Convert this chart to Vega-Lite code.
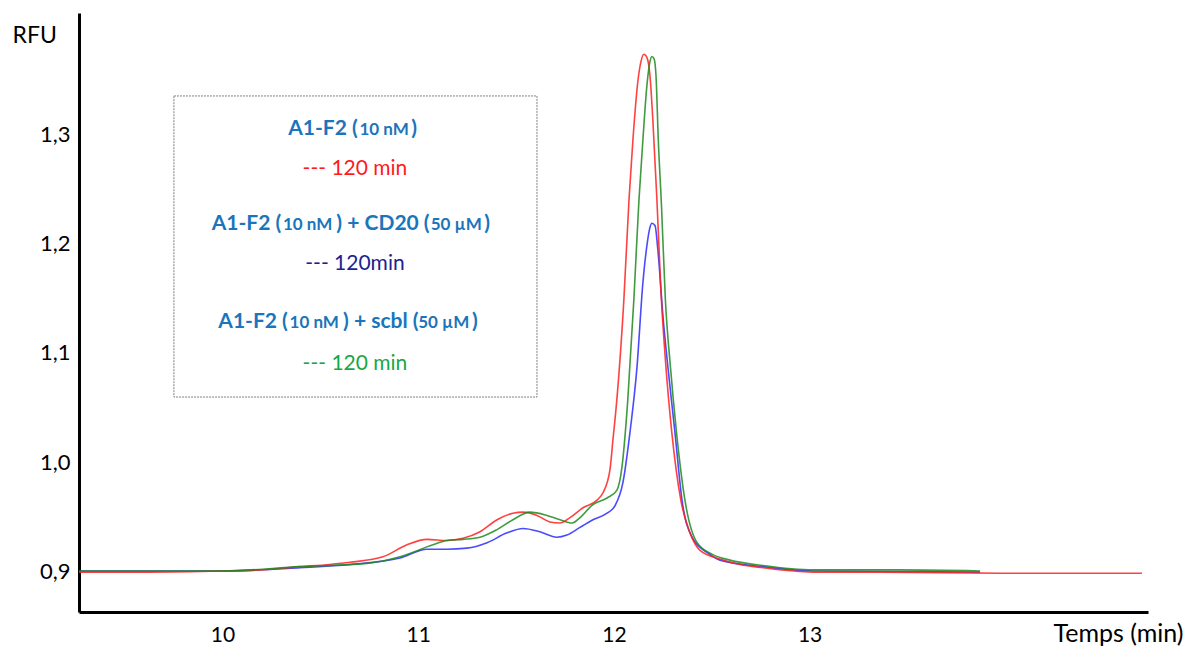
{
  "$schema": "https://vega.github.io/schema/vega-lite/v6.json",
  "width": 1069,
  "height": 599,
  "autosize": "none",
  "padding": {"left": 79, "top": 13, "right": 41, "bottom": 43},
  "background": "white",
  "config": {"view": {"stroke": null}},
  "datasets": {
    "curves": [
      {"s": "blue", "t": 9.267, "rfu": 0.900},
      {"s": "blue", "t": 9.997, "rfu": 0.900},
      {"s": "blue", "t": 10.396, "rfu": 0.903},
      {"s": "blue", "t": 10.652, "rfu": 0.906},
      {"s": "blue", "t": 10.907, "rfu": 0.912},
      {"s": "blue", "t": 11.045, "rfu": 0.920},
      {"s": "blue", "t": 11.147, "rfu": 0.920},
      {"s": "blue", "t": 11.250, "rfu": 0.921},
      {"s": "blue", "t": 11.352, "rfu": 0.926},
      {"s": "blue", "t": 11.454, "rfu": 0.935},
      {"s": "blue", "t": 11.536, "rfu": 0.939},
      {"s": "blue", "t": 11.622, "rfu": 0.936},
      {"s": "blue", "t": 11.709, "rfu": 0.931},
      {"s": "blue", "t": 11.760, "rfu": 0.933},
      {"s": "blue", "t": 11.827, "rfu": 0.940},
      {"s": "blue", "t": 11.893, "rfu": 0.947},
      {"s": "blue", "t": 11.965, "rfu": 0.953},
      {"s": "blue", "t": 12.006, "rfu": 0.960},
      {"s": "blue", "t": 12.046, "rfu": 0.981},
      {"s": "blue", "t": 12.082, "rfu": 1.027},
      {"s": "blue", "t": 12.118, "rfu": 1.087},
      {"s": "blue", "t": 12.148, "rfu": 1.164},
      {"s": "blue", "t": 12.169, "rfu": 1.199},
      {"s": "blue", "t": 12.184, "rfu": 1.215},
      {"s": "blue", "t": 12.194, "rfu": 1.219},
      {"s": "blue", "t": 12.210, "rfu": 1.217},
      {"s": "blue", "t": 12.225, "rfu": 1.194},
      {"s": "blue", "t": 12.251, "rfu": 1.133},
      {"s": "blue", "t": 12.276, "rfu": 1.087},
      {"s": "blue", "t": 12.312, "rfu": 1.027},
      {"s": "blue", "t": 12.348, "rfu": 0.965},
      {"s": "blue", "t": 12.399, "rfu": 0.931},
      {"s": "blue", "t": 12.476, "rfu": 0.917},
      {"s": "blue", "t": 12.542, "rfu": 0.910},
      {"s": "blue", "t": 12.762, "rfu": 0.904},
      {"s": "blue", "t": 13.017, "rfu": 0.900},
      {"s": "blue", "t": 13.871, "rfu": 0.899},

      {"s": "red", "t": 9.267, "rfu": 0.899},
      {"s": "red", "t": 9.630, "rfu": 0.899},
      {"s": "red", "t": 9.997, "rfu": 0.900},
      {"s": "red", "t": 10.192, "rfu": 0.901},
      {"s": "red", "t": 10.396, "rfu": 0.904},
      {"s": "red", "t": 10.549, "rfu": 0.906},
      {"s": "red", "t": 10.652, "rfu": 0.908},
      {"s": "red", "t": 10.820, "rfu": 0.913},
      {"s": "red", "t": 10.943, "rfu": 0.924},
      {"s": "red", "t": 11.045, "rfu": 0.929},
      {"s": "red", "t": 11.147, "rfu": 0.928},
      {"s": "red", "t": 11.229, "rfu": 0.930},
      {"s": "red", "t": 11.316, "rfu": 0.936},
      {"s": "red", "t": 11.403, "rfu": 0.947},
      {"s": "red", "t": 11.484, "rfu": 0.953},
      {"s": "red", "t": 11.536, "rfu": 0.954},
      {"s": "red", "t": 11.607, "rfu": 0.951},
      {"s": "red", "t": 11.673, "rfu": 0.945},
      {"s": "red", "t": 11.725, "rfu": 0.944},
      {"s": "red", "t": 11.776, "rfu": 0.949},
      {"s": "red", "t": 11.842, "rfu": 0.958},
      {"s": "red", "t": 11.914, "rfu": 0.965},
      {"s": "red", "t": 11.945, "rfu": 0.972},
      {"s": "red", "t": 11.980, "rfu": 0.993},
      {"s": "red", "t": 11.995, "rfu": 1.020},
      {"s": "red", "t": 12.015, "rfu": 1.057},
      {"s": "red", "t": 12.051, "rfu": 1.149},
      {"s": "red", "t": 12.077, "rfu": 1.240},
      {"s": "red", "t": 12.097, "rfu": 1.295},
      {"s": "red", "t": 12.123, "rfu": 1.350},
      {"s": "red", "t": 12.138, "rfu": 1.367},
      {"s": "red", "t": 12.153, "rfu": 1.374},
      {"s": "red", "t": 12.169, "rfu": 1.371},
      {"s": "red", "t": 12.184, "rfu": 1.355},
      {"s": "red", "t": 12.199, "rfu": 1.314},
      {"s": "red", "t": 12.220, "rfu": 1.240},
      {"s": "red", "t": 12.240, "rfu": 1.158},
      {"s": "red", "t": 12.266, "rfu": 1.087},
      {"s": "red", "t": 12.296, "rfu": 1.027},
      {"s": "red", "t": 12.342, "rfu": 0.965},
      {"s": "red", "t": 12.389, "rfu": 0.935},
      {"s": "red", "t": 12.440, "rfu": 0.919},
      {"s": "red", "t": 12.542, "rfu": 0.911},
      {"s": "red", "t": 12.644, "rfu": 0.906},
      {"s": "red", "t": 12.762, "rfu": 0.903},
      {"s": "red", "t": 13.017, "rfu": 0.899},
      {"s": "red", "t": 13.360, "rfu": 0.899},
      {"s": "red", "t": 13.973, "rfu": 0.898},
      {"s": "red", "t": 14.698, "rfu": 0.898},

      {"s": "green", "t": 9.267, "rfu": 0.900},
      {"s": "green", "t": 9.997, "rfu": 0.900},
      {"s": "green", "t": 10.396, "rfu": 0.904},
      {"s": "green", "t": 10.738, "rfu": 0.907},
      {"s": "green", "t": 10.907, "rfu": 0.913},
      {"s": "green", "t": 11.075, "rfu": 0.924},
      {"s": "green", "t": 11.147, "rfu": 0.928},
      {"s": "green", "t": 11.229, "rfu": 0.929},
      {"s": "green", "t": 11.316, "rfu": 0.931},
      {"s": "green", "t": 11.403, "rfu": 0.938},
      {"s": "green", "t": 11.484, "rfu": 0.947},
      {"s": "green", "t": 11.571, "rfu": 0.954},
      {"s": "green", "t": 11.658, "rfu": 0.951},
      {"s": "green", "t": 11.725, "rfu": 0.947},
      {"s": "green", "t": 11.786, "rfu": 0.944},
      {"s": "green", "t": 11.827, "rfu": 0.949},
      {"s": "green", "t": 11.893, "rfu": 0.961},
      {"s": "green", "t": 11.965, "rfu": 0.967},
      {"s": "green", "t": 12.015, "rfu": 0.974},
      {"s": "green", "t": 12.041, "rfu": 0.995},
      {"s": "green", "t": 12.071, "rfu": 1.057},
      {"s": "green", "t": 12.102, "rfu": 1.149},
      {"s": "green", "t": 12.128, "rfu": 1.240},
      {"s": "green", "t": 12.148, "rfu": 1.295},
      {"s": "green", "t": 12.169, "rfu": 1.346},
      {"s": "green", "t": 12.184, "rfu": 1.367},
      {"s": "green", "t": 12.194, "rfu": 1.372},
      {"s": "green", "t": 12.205, "rfu": 1.370},
      {"s": "green", "t": 12.215, "rfu": 1.355},
      {"s": "green", "t": 12.227, "rfu": 1.295},
      {"s": "green", "t": 12.243, "rfu": 1.236},
      {"s": "green", "t": 12.263, "rfu": 1.149},
      {"s": "green", "t": 12.289, "rfu": 1.087},
      {"s": "green", "t": 12.320, "rfu": 1.027},
      {"s": "green", "t": 12.363, "rfu": 0.965},
      {"s": "green", "t": 12.425, "rfu": 0.926},
      {"s": "green", "t": 12.506, "rfu": 0.915},
      {"s": "green", "t": 12.593, "rfu": 0.910},
      {"s": "green", "t": 12.762, "rfu": 0.905},
      {"s": "green", "t": 13.017, "rfu": 0.901},
      {"s": "green", "t": 13.462, "rfu": 0.901},
      {"s": "green", "t": 13.871, "rfu": 0.900}
    ]
  },
  "layer": [
    {
      "data": {"name": "curves"},
      "transform": [{"filter": "datum.s === 'blue'"}],
      "mark": {"type": "line", "color": "#2a2aff", "strokeWidth": 1.6, "opacity": 0.85, "interpolate": "monotone"},
      "encoding": {
        "x": {"field": "t", "type": "quantitative", "scale": {"domain": [9.267, 14.729], "nice": false, "zero": false},
          "axis": {"values": [10, 11, 12, 13], "format": "d", "ticks": false, "tickSize": 0, "grid": false, "domainColor": "black", "domainWidth": 3,
            "labelFont": "Lato", "labelFontSize": 21, "labelColor": "black", "labelPadding": 12,
            "title": "Temps (min)", "titleFont": "Lato", "titleFontSize": 25, "titleFontWeight": "normal", "titleColor": "black",
            "titleAlign": "right", "titleBaseline": "alphabetic", "titleX": 1104, "titleY": 29}},
        "y": {"field": "rfu", "type": "quantitative", "scale": {"domain": [0.8624, 1.4119], "nice": false, "zero": false},
          "axis": {"values": [0.9, 1.0, 1.1, 1.2, 1.3], "ticks": false, "tickSize": 0, "grid": false, "domainColor": "black", "domainWidth": 3,
            "labelExpr": "replace(format(datum.value, '.1f'), '.', ',')",
            "labelFont": "Lato", "labelFontSize": 22, "labelColor": "black", "labelPadding": 9,
            "title": "RFU", "titleFont": "Lato", "titleFontSize": 23, "titleFontWeight": "normal", "titleColor": "black",
            "titleAngle": 0, "titleAlign": "left", "titleBaseline": "alphabetic", "titleX": -67, "titleY": 29}}
      }
    },
    {
      "data": {"name": "curves"},
      "transform": [{"filter": "datum.s === 'red'"}],
      "mark": {"type": "line", "color": "#ff2020", "strokeWidth": 1.6, "opacity": 0.85, "interpolate": "monotone"},
      "encoding": {
        "x": {"field": "t", "type": "quantitative"},
        "y": {"field": "rfu", "type": "quantitative"}
      }
    },
    {
      "data": {"name": "curves"},
      "transform": [{"filter": "datum.s === 'green'"}],
      "mark": {"type": "line", "color": "#1f8a1f", "strokeWidth": 1.6, "opacity": 0.85, "interpolate": "monotone"},
      "encoding": {
        "x": {"field": "t", "type": "quantitative"},
        "y": {"field": "rfu", "type": "quantitative"}
      }
    },
    {
      "data": {"values": [{}]},
      "mark": {"type": "rect", "fill": null, "fillOpacity": 0, "stroke": "#7f7f7f", "strokeWidth": 1, "strokeDash": [2, 1]},
      "encoding": {
        "x": {"datum": 9.752, "type": "quantitative"}, "x2": {"datum": 11.607},
        "y": {"datum": 1.3358, "type": "quantitative"}, "y2": {"datum": 1.0596}
      }
    },
    {"data": {"values": [{}]}, "mark": {"type": "text", "text": "A1-F2 (", "font": "Lato", "fontSize": 21, "fontWeight": "bold", "color": "#1b75bc", "align": "left", "baseline": "alphabetic"},
      "encoding": {"x": {"datum": 10.336, "type": "quantitative"}, "y": {"datum": 1.300, "type": "quantitative"}}},
    {"data": {"values": [{}]}, "mark": {"type": "text", "text": "10 nM", "font": "Lato", "fontSize": 17, "fontWeight": "bold", "color": "#1b75bc", "align": "left", "baseline": "alphabetic"},
      "encoding": {"x": {"datum": 10.700, "type": "quantitative"}, "y": {"datum": 1.300, "type": "quantitative"}}},
    {"data": {"values": [{}]}, "mark": {"type": "text", "text": ")", "font": "Lato", "fontSize": 21, "fontWeight": "bold", "color": "#1b75bc", "align": "left", "baseline": "alphabetic"},
      "encoding": {"x": {"datum": 10.965, "type": "quantitative"}, "y": {"datum": 1.300, "type": "quantitative"}}},
    {"data": {"values": [{}]}, "mark": {"type": "text", "text": "--- 120 min", "font": "Lato", "fontSize": 21, "color": "#ff1a1a", "align": "center", "baseline": "alphabetic"},
      "encoding": {"x": {"datum": 10.677, "type": "quantitative"}, "y": {"datum": 1.2633, "type": "quantitative"}}},

    {"data": {"values": [{}]}, "mark": {"type": "text", "text": "A1-F2 (", "font": "Lato", "fontSize": 21, "fontWeight": "bold", "color": "#1b75bc", "align": "left", "baseline": "alphabetic"},
      "encoding": {"x": {"datum": 9.945, "type": "quantitative"}, "y": {"datum": 1.2128, "type": "quantitative"}}},
    {"data": {"values": [{}]}, "mark": {"type": "text", "text": "10 nM", "font": "Lato", "fontSize": 17, "fontWeight": "bold", "color": "#1b75bc", "align": "left", "baseline": "alphabetic"},
      "encoding": {"x": {"datum": 10.309, "type": "quantitative"}, "y": {"datum": 1.2128, "type": "quantitative"}}},
    {"data": {"values": [{}]}, "mark": {"type": "text", "text": ") + CD20 (", "font": "Lato", "fontSize": 21, "fontWeight": "bold", "color": "#1b75bc", "align": "left", "baseline": "alphabetic"},
      "encoding": {"x": {"datum": 10.582, "type": "quantitative"}, "y": {"datum": 1.2128, "type": "quantitative"}}},
    {"data": {"values": [{}]}, "mark": {"type": "text", "text": "50 µM", "font": "Lato", "fontSize": 17, "fontWeight": "bold", "color": "#1b75bc", "align": "left", "baseline": "alphabetic"},
      "encoding": {"x": {"datum": 11.064, "type": "quantitative"}, "y": {"datum": 1.2128, "type": "quantitative"}}},
    {"data": {"values": [{}]}, "mark": {"type": "text", "text": ")", "font": "Lato", "fontSize": 21, "fontWeight": "bold", "color": "#1b75bc", "align": "left", "baseline": "alphabetic"},
      "encoding": {"x": {"datum": 11.338, "type": "quantitative"}, "y": {"datum": 1.2128, "type": "quantitative"}}},
    {"data": {"values": [{}]}, "mark": {"type": "text", "text": "--- 120min", "font": "Lato", "fontSize": 21, "color": "#1e2290", "align": "center", "baseline": "alphabetic"},
      "encoding": {"x": {"datum": 10.677, "type": "quantitative"}, "y": {"datum": 1.1761, "type": "quantitative"}}},

    {"data": {"values": [{}]}, "mark": {"type": "text", "text": "A1-F2 (", "font": "Lato", "fontSize": 21, "fontWeight": "bold", "color": "#1b75bc", "align": "left", "baseline": "alphabetic"},
      "encoding": {"x": {"datum": 9.979, "type": "quantitative"}, "y": {"datum": 1.1229, "type": "quantitative"}}},
    {"data": {"values": [{}]}, "mark": {"type": "text", "text": "10 nM", "font": "Lato", "fontSize": 17, "fontWeight": "bold", "color": "#1b75bc", "align": "left", "baseline": "alphabetic"},
      "encoding": {"x": {"datum": 10.343, "type": "quantitative"}, "y": {"datum": 1.1229, "type": "quantitative"}}},
    {"data": {"values": [{}]}, "mark": {"type": "text", "text": ") + scbl (", "font": "Lato", "fontSize": 21, "fontWeight": "bold", "color": "#1b75bc", "align": "left", "baseline": "alphabetic"},
      "encoding": {"x": {"datum": 10.616, "type": "quantitative"}, "y": {"datum": 1.1229, "type": "quantitative"}}},
    {"data": {"values": [{}]}, "mark": {"type": "text", "text": "50 µM", "font": "Lato", "fontSize": 17, "fontWeight": "bold", "color": "#1b75bc", "align": "left", "baseline": "alphabetic"},
      "encoding": {"x": {"datum": 11.000, "type": "quantitative"}, "y": {"datum": 1.1229, "type": "quantitative"}}},
    {"data": {"values": [{}]}, "mark": {"type": "text", "text": ")", "font": "Lato", "fontSize": 21, "fontWeight": "bold", "color": "#1b75bc", "align": "left", "baseline": "alphabetic"},
      "encoding": {"x": {"datum": 11.275, "type": "quantitative"}, "y": {"datum": 1.1229, "type": "quantitative"}}},
    {"data": {"values": [{}]}, "mark": {"type": "text", "text": "--- 120 min", "font": "Lato", "fontSize": 21, "color": "#16a84a", "align": "center", "baseline": "alphabetic"},
      "encoding": {"x": {"datum": 10.677, "type": "quantitative"}, "y": {"datum": 1.0844, "type": "quantitative"}}}
  ]
}
